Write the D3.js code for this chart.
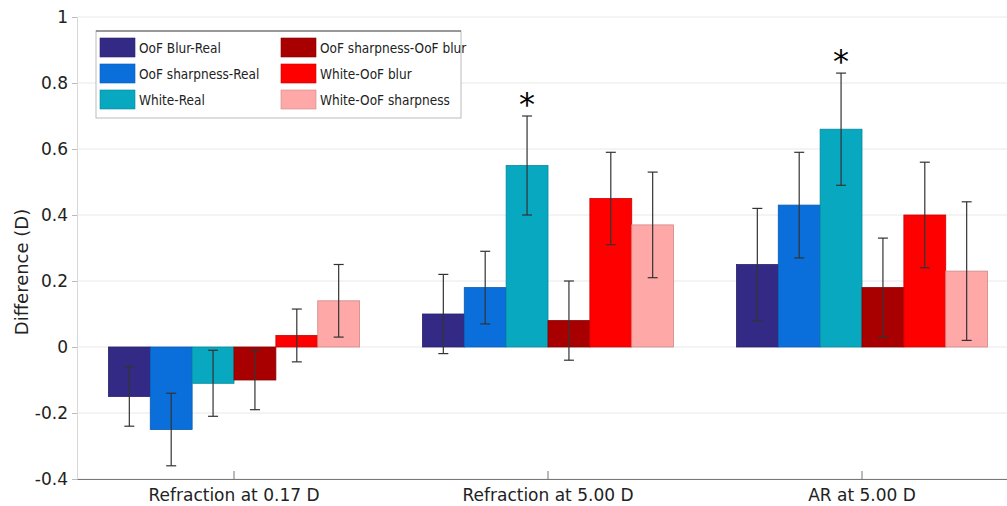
<!DOCTYPE html>
<html>
<head>
<meta charset="utf-8">
<script src="https://cdn.jsdelivr.net/npm/d3@7"></script>
<style>
body { margin: 0; background: #fff; }
text { font-family: "DejaVu Sans", Verdana, sans-serif; }
</style>
</head>
<body>
<svg width="1007" height="506"></svg>
<script>
const categories = ["Refraction at 0.17 D", "Refraction at 5.00 D", "AR at 5.00 D"];
const seriesNames = ["OoF Blur-Real", "OoF sharpness-Real", "White-Real",
    "OoF sharpness-OoF blur", "White-OoF blur", "White-OoF sharpness"];
const colors = ["#332a85", "#0a6fdb", "#08a8c0", "#a80000", "#ff0000", "#ffa8a8"];

// one array per series, one value per category
const means = [
    [-0.15, 0.10, 0.25],
    [-0.25, 0.18, 0.43],
    [-0.11, 0.55, 0.66],
    [-0.10, 0.08, 0.18],
    [0.035, 0.45, 0.40],
    [0.14, 0.37, 0.23]
];
const errors = [
    [0.09, 0.12, 0.17],
    [0.11, 0.11, 0.16],
    [0.10, 0.15, 0.17],
    [0.09, 0.12, 0.15],
    [0.08, 0.14, 0.16],
    [0.11, 0.16, 0.21]
];
const stars = [[1, 2], [2, 2]]; // [category index, series index]
const yTicks = [-0.4, -0.2, 0, 0.2, 0.4, 0.6, 0.8, 1];

const svg = d3.select("svg");
const margin = { top: 17, right: -12, bottom: 27, left: 77 };
const width = 1007, height = 506;

const xScale = d3.scaleBand()
    .domain(categories)
    .range([margin.left, width - margin.right])
    .paddingInner(0.2)
    .paddingOuter(0.1);

const xSub = d3.scaleBand()
    .domain(d3.range(seriesNames.length))
    .range([0, xScale.bandwidth()]);

const yScale = d3.scaleLinear()
    .domain([-0.4, 1])
    .range([height - margin.bottom, margin.top]);

// grid
svg.append("g")
    .selectAll("line")
    .data(yTicks)
    .enter()
    .append("line")
    .attr("x1", margin.left)
    .attr("x2", width - margin.right)
    .attr("y1", d => yScale(d))
    .attr("y2", d => yScale(d))
    .attr("stroke", "#e8e8e8");

// y axis
const yAxis = svg.append("g")
    .attr("transform", `translate(${margin.left},0)`)
    .call(d3.axisLeft(yScale).tickValues(yTicks).tickSize(5).tickPadding(4)
        .tickFormat(d => String(+d.toFixed(1))));
yAxis.select(".domain").attr("stroke", "#d8d8d8");
yAxis.selectAll(".tick line").attr("stroke", "#bbb");
yAxis.selectAll("text").style("font-size", "17px").attr("fill", "#222");

// bars
const rows = [];
means.forEach((s, i) => s.forEach((v, j) => rows.push({ s: i, c: j, v: v, e: errors[i][j] })));

svg.append("g")
    .selectAll("rect")
    .data(rows)
    .enter()
    .append("rect")
    .attr("x", d => xScale(categories[d.c]) + xSub(d.s))
    .attr("y", d => yScale(Math.max(0, d.v)))
    .attr("width", xSub.bandwidth())
    .attr("height", d => Math.abs(yScale(d.v) - yScale(0)))
    .attr("fill", d => colors[d.s])
    .attr("stroke", d => d3.color(colors[d.s]).darker(0.6))
    .attr("stroke-width", 0.8);

// error bars
const eb = svg.append("g")
    .attr("stroke", "#333")
    .attr("stroke-width", 1.2)
    .selectAll("g")
    .data(rows)
    .enter()
    .append("g")
    .attr("transform", d => `translate(${xScale(categories[d.c]) + xSub(d.s) + xSub.bandwidth() / 2},0)`);
eb.append("line")
    .attr("y1", d => yScale(d.v - d.e))
    .attr("y2", d => yScale(d.v + d.e));
eb.append("line")
    .attr("x1", -5).attr("x2", 5)
    .attr("y1", d => yScale(d.v - d.e))
    .attr("y2", d => yScale(d.v - d.e));
eb.append("line")
    .attr("x1", -5).attr("x2", 5)
    .attr("y1", d => yScale(d.v + d.e))
    .attr("y2", d => yScale(d.v + d.e));

// significance stars
svg.selectAll(".star")
    .data(stars)
    .enter()
    .append("text")
    .attr("class", "star")
    .attr("x", d => xScale(categories[d[0]]) + xSub(d[1]) + xSub.bandwidth() / 2)
    .attr("y", d => yScale(means[d[1]][d[0]] + errors[d[1]][d[0]]) - 1)
    .attr("text-anchor", "middle")
    .style("font-size", "32px")
    .text("*");

// x axis
const xAxis = svg.append("g")
    .attr("transform", `translate(0,${height - margin.bottom})`)
    .call(d3.axisBottom(xScale).tickSizeInner(-8).tickSizeOuter(0).tickPadding(10));
xAxis.select(".domain").attr("stroke", "#777");
xAxis.selectAll(".tick line").attr("stroke", "#777");
xAxis.selectAll("text").style("font-size", "17px").attr("fill", "#222");

// y label
svg.append("text")
    .attr("transform", "rotate(-90)")
    .attr("x", -272)
    .attr("y", 28)
    .attr("text-anchor", "middle")
    .style("font-size", "18px")
    .attr("fill", "#222")
    .text("Difference (D)");

// legend
const legend = svg.append("g").attr("transform", "translate(96,31)");
legend.append("rect")
    .attr("width", 365)
    .attr("height", 87)
    .attr("fill", "#fff")
    .attr("stroke", "#bbb");
legend.append("line")
    .attr("x1", 0).attr("x2", 365)
    .attr("stroke", "#555");
const items = legend.selectAll(".item")
    .data(seriesNames)
    .enter()
    .append("g")
    .attr("class", "item")
    .attr("transform", (d, i) => `translate(${i < 3 ? 4 : 185},${7 + (i % 3) * 26})`);
items.append("rect")
    .attr("width", 35)
    .attr("height", 19)
    .attr("fill", (d, i) => colors[i])
    .attr("stroke", (d, i) => d3.color(colors[i]).darker(0.6))
    .attr("stroke-width", 0.6);
items.append("text")
    .attr("x", 39)
    .attr("y", 15)
    .style("font-family", "'DejaVu Sans Condensed', 'DejaVu Sans', sans-serif")
    .style("font-size", "13.5px")
    .attr("fill", "#222")
    .text(d => d);
</script>
</body>
</html>
